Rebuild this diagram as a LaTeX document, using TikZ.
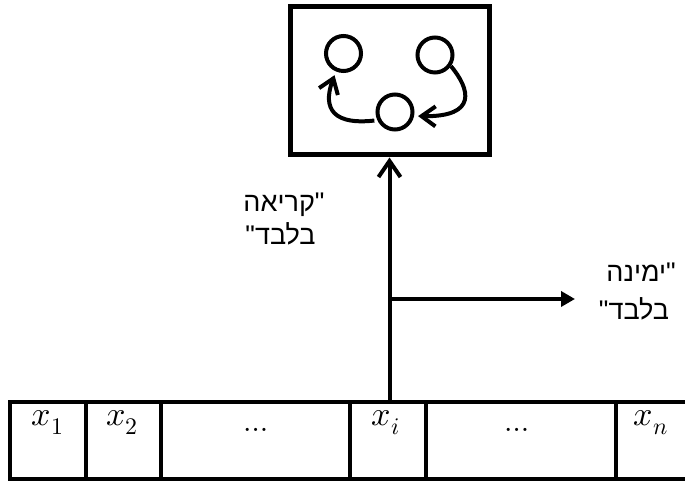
\documentclass[tikz,border=0pt]{standalone}
\usepackage{fontspec}
\usepackage{unicode-math}
\setmathfont{Latin Modern Math}
\usetikzlibrary{arrows.meta}
\TeXXeTstate=1
\newfontfamily\hebfont[Script=Hebrew]{Liberation Sans}

\begin{document}
\begin{tikzpicture}[x=1pt,y=1pt,
  cell/.style={draw, rectangle, line width=4pt, minimum height=77pt,
    inner sep=0pt, outer sep=0pt},
  entry/.style={anchor=base, inner sep=0pt, font=\fontsize{34}{40}\selectfont},
  dotsentry/.style={anchor=base, inner sep=0pt, font=\fontsize{30}{36}\selectfont},
  heb/.style={anchor=base, inner sep=0pt, font=\hebfont\fontsize{27}{32}\selectfont},
  statecirc/.style={circle, draw, line width=4pt, minimum size=35pt, inner sep=0pt},
  flow/.style={line width=4pt, -{Straight Barb[length=14pt,width=20pt]}},
  readarrow/.style={line width=4pt, -{Straight Barb[length=16pt,width=22pt]}},
  movearrow/.style={line width=4pt, -{Triangle[length=14pt,width=15pt]}}
]
\useasboundingbox (0,0) rectangle (685,481);
\clip (0,0) rectangle (685,481);

% control unit
\node[draw, rectangle, line width=5pt, minimum width=199pt, minimum height=148pt,
  inner sep=0pt] (box) at (389.5,400) {};
\node[statecirc] (c1) at (343.5,427.5) {};
\node[statecirc] (c2) at (435,426) {};
\node[statecirc] (c3) at (395,369) {};
\draw[flow, shorten <=3pt, shorten >=4pt]
  (c3.205) .. controls (325,355) and (325,380) .. (c1.247);
\draw[flow, shorten >=4pt]
  (c2.-35) .. controls (470,392) and (478,364) .. (c3.-12);

% tape
\node[cell, minimum width=76pt]  (t1) at (48,40.5) {};
\node[cell, minimum width=75pt]  (t2) at (123.5,40.5) {};
\node[cell, minimum width=189pt] (t3) at (255.5,40.5) {};
\node[cell, minimum width=76pt]  (t4) at (388,40.5) {};
\node[cell, minimum width=190pt] (t5) at (521,40.5) {};
\node[cell, minimum width=140pt] (t6) at (686,40.5) {};

\node[entry] (v1) at (47.5,55) {$x_1$};
\node[entry] (v2) at (122,55) {$x_2$};
\node[dotsentry] (d1) at (256,49) {$\ldots$};
\node[entry] (vi) at (386,55) {$x_i$};
\node[dotsentry] (d2) at (517,49) {$\ldots$};
\node[entry] (vn) at (651,55) {$x_n$};

% head: read upward, move to the right
\draw[readarrow] (t4.north -| box.south) -- (box.south);
\coordinate (branch) at (box.south |- 0,182);
\coordinate (rightend) at (575,182);
\draw[movearrow] (branch) -- (rightend);

\node[heb] (readA) at (284,269) {\beginR "קריאה\endR};
\node[heb] (readB) at (280.5,236) {\beginR בלבד"\endR};
\node[heb] (moveA) at (641,199) {\beginR "ימינה\endR};
\node[heb] (moveB) at (634,161) {\beginR בלבד"\endR};
\end{tikzpicture}
\end{document}
